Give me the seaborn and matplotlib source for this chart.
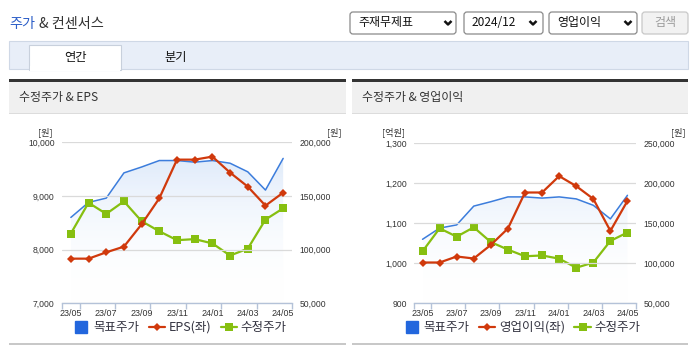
import numpy as np
import pandas as pd
import matplotlib
matplotlib.use("Agg")
import matplotlib.pyplot as plt
import seaborn as sns
from matplotlib.patches import Rectangle, FancyBboxPatch
from matplotlib.lines import Line2D
from matplotlib.transforms import IdentityTransform
from matplotlib.colors import LinearSegmentedColormap
from matplotlib.ticker import FuncFormatter, FixedLocator

# ---------------- data ----------------
months = ["23/05", "23/06", "23/07", "23/08", "23/09", "23/10", "23/11",
          "23/12", "24/01", "24/02", "24/03", "24/04", "24/05"]
target_price = [130000, 144000, 148000, 171500, 177000, 183000, 183000,
                181500, 183000, 180500, 172500, 155500, 185000]
adj_price = [115000, 143700, 133300, 145000, 126500, 117100, 108800,
             109800, 105800, 94500, 100900, 128000, 138500]
eps = [7832, 7832, 7950, 8056, 8472, 8957, 9677, 9677, 9733, 9435, 9174, 8820, 9062]
op_income = [1002, 1002, 1017, 1012, 1046, 1087, 1177, 1177, 1218, 1193, 1161, 1081, 1156]

legend_labels_left = ["목표주가", "EPS(좌)", "수정주가"]
legend_labels_right = ["목표주가", "영업이익(좌)", "수정주가"]

BLUE = "#3c7ddc"
BLUE_SQ = "#2266dd"
RED = "#d0390c"
GREEN = "#86bf10"

sns.set_theme(style="white")
plt.rcParams["font.family"] = ["Noto Sans CJK KR", "DejaVu Sans"]

W, H = 695, 349
fig = plt.figure(figsize=(W / 100, H / 100), dpi=100)
fig.patch.set_facecolor("white")
ID = IdentityTransform()


def rect(x0, y0, x1, y1, fc, ec="none", lw=0.0, rnd=None):
    if rnd:
        p = FancyBboxPatch((x0, H - y1), x1 - x0, y1 - y0,
                           boxstyle=f"round,pad=0,rounding_size={rnd}",
                           fc=fc, ec=ec, lw=lw, transform=ID)
    else:
        p = Rectangle((x0, H - y1), x1 - x0, y1 - y0, fc=fc, ec=ec, lw=lw,
                      transform=ID)
    fig.add_artist(p)


def text(x, y, s, **kw):
    fig.text(x / W, 1 - y / H, s, **kw)


# ---------------- page chrome ----------------
text(9, 24, "주가", fontsize=10.2, color="#2d5fc8", va="center", ha="left")
text(39, 24, "& 컨센서스", fontsize=10.2, color="#333333", va="center", ha="left")

# dropdowns
for (x0, x1, label, chev) in [(350, 456, "주재무제표", 448),
                               (464, 543, "2024/12", 533),
                               (549, 637, "영업이익", 628)]:
    rect(x0, 12, x1, 34, fc="white", ec="#8a8a8a", lw=0.9, rnd=3)
    text(x0 + 8, 22.5, label, fontsize=8.6, color="#111111", va="center", ha="left")
    fig.add_artist(Line2D([chev - 3.5, chev, chev + 3.5],
                          [H - 21, H - 24.5, H - 21], color="#111111",
                          lw=1.8, transform=ID, solid_capstyle="butt"))
rect(642, 12, 688, 34, fc="#f2f2f2", ec="#c8c8c8", lw=0.9, rnd=3)
text(665, 22.5, "검색", fontsize=8.6, color="#9a9a9a", va="center", ha="center")

# tab bar
rect(9, 41, 688, 69, fc="#e8eef8", ec="#cfd8e6", lw=0.8)
rect(29, 45, 121, 70, fc="white", ec="#c8d0dc", lw=0.8)
rect(29.6, 66, 120.4, 70.5, fc="white")
text(75, 57, "연간", fontsize=8.8, color="#111111", va="center", ha="center")
text(176, 57, "분기", fontsize=8.8, color="#111111", va="center", ha="center")

# panels
for (x0, x1, title) in [(9, 346, "수정주가 & EPS"), (352, 688, "수정주가 & 영업이익")]:
    rect(x0, 81, x1, 112.5, fc="#f0f0f0")
    rect(x0, 79, x1, 81.5, fc="#333333")
    rect(x0, 112.5, x1, 113.5, fc="#dcdcdc")
    rect(x0, 342.5, x1, 344.5, fc="#c8c8c8")
    text(x0 + 10, 97, title, fontsize=8.6, color="#333333", va="center", ha="left")

# ---------------- charts ----------------
idx = np.arange(len(months))
df = pd.DataFrame({"idx": idx, "month": months, "target": target_price,
                   "adj": adj_price, "eps": eps, "op": op_income})

grad_cmap = LinearSegmentedColormap.from_list(
    "g", [(1, 1, 1, 0.0), (0.85, 0.905, 0.98, 1.0)])

TICKFONT = dict(family="Liberation Sans", size=6.2)


def make_chart(x0, x1, y0, y1, left_col, left_lim, left_step, right_lim,
               right_step, left_unit, right_unit, labels, leg_cx):
    ax = fig.add_axes([x0 / W, 1 - y1 / H, (x1 - x0) / W, (y1 - y0) / H])
    ax2 = ax.twinx()
    ax.set_zorder(ax2.get_zorder() + 1)
    ax.patch.set_visible(False)

    # target price area + line (right axis)
    poly = ax2.fill_between(df["idx"], df["target"], right_lim[0],
                            color="none", lw=0)
    grad = np.linspace(0, 1, 256).reshape(-1, 1)
    im = ax2.imshow(grad, extent=[0, len(months) - 1, right_lim[0], right_lim[1]],
                    origin="lower", aspect="auto", cmap=grad_cmap, zorder=1)
    im.set_clip_path(poly.get_paths()[0], ax2.transData)
    sns.lineplot(data=df, x="idx", y="target", ax=ax2, color=BLUE, lw=1.1,
                 zorder=3)
    sns.lineplot(data=df, x="idx", y="adj", ax=ax2, color=GREEN, lw=1.6,
                 marker="s", markersize=6.2, markeredgewidth=0,
                 markeredgecolor=GREEN, zorder=4)
    sns.lineplot(data=df, x="idx", y=left_col, ax=ax, color=RED, lw=1.6,
                 marker="D", markersize=4.2, markeredgewidth=0,
                 markeredgecolor=RED, zorder=5)

    for a in (ax, ax2):
        a.set_xlim(-0.5, len(months) - 0.5)
        a.set_xlabel("")
        a.set_ylabel("")
        for s in a.spines.values():
            s.set_visible(False)
    ax.set_ylim(*left_lim)
    ax2.set_ylim(*right_lim)
    ax.spines["bottom"].set_visible(True)
    ax.spines["bottom"].set_color("#b4c2d8")
    ax.spines["bottom"].set_linewidth(1.0)

    lt = np.arange(left_lim[0], left_lim[1] + 1, left_step)
    rt = np.arange(right_lim[0], right_lim[1] + 1, right_step)
    ax.set_yticks(lt)
    ax2.set_yticks(rt)
    fmt = FuncFormatter(lambda v, p: f"{int(round(v)):,}")
    ax.yaxis.set_major_formatter(fmt)
    ax2.yaxis.set_major_formatter(fmt)
    ax.tick_params(axis="y", length=0, pad=5.2, labelcolor="#333333")
    ax2.tick_params(axis="y", length=0, pad=5.6, labelcolor="#333333")
    for lab in ax.get_yticklabels() + ax2.get_yticklabels():
        lab.set_fontfamily(TICKFONT["family"])
        lab.set_fontsize(TICKFONT["size"])

    # grid lines at the left-axis ticks
    ax2.grid(False)
    ax.grid(False)
    ax.yaxis.grid(True, color="#dadada", lw=0.9)
    ax.set_axisbelow(True)

    # x ticks
    ax.xaxis.set_major_locator(FixedLocator(idx[::2]))
    ax.set_xticklabels(months[::2])
    ax.xaxis.set_minor_locator(FixedLocator([-0.5] + list(np.arange(0.5, 12, 2)) + [12.5]))
    ax.tick_params(axis="x", which="major", length=0, pad=4.0, labelcolor="#333333")
    ax.tick_params(axis="x", which="minor", length=4, width=1.0, color="#b4c2d8",
                   bottom=True)
    ax2.tick_params(axis="x", which="both", length=0, labelbottom=False)
    for lab in ax.get_xticklabels():
        lab.set_fontfamily(TICKFONT["family"])
        lab.set_fontsize(6.4)

    # units
    text(left_unit[0], 132.5, left_unit[1], fontsize=6.6, color="#333333",
         va="center", ha="right")
    text(right_unit[0], 132.5, right_unit[1], fontsize=6.6, color="#333333",
         va="center", ha="right")

    handles = [
        Line2D([], [], marker="s", color=BLUE_SQ, linestyle="none", markersize=8.5),
        Line2D([], [], marker="D", color=RED, lw=1.6, markersize=4.2,
               markeredgewidth=0),
        Line2D([], [], marker="s", color=GREEN, lw=1.6, markersize=6.2,
               markeredgewidth=0),
    ]
    ax.legend(handles, labels, loc="center",
              bbox_to_anchor=(leg_cx / W, 1 - 327.5 / H),
              bbox_transform=fig.transFigure, ncol=3, frameon=False,
              handlelength=1.3, handletextpad=0.3, columnspacing=0.75,
              fontsize=9.0, labelcolor="#333340", borderpad=0)
    return ax, ax2


make_chart(62, 292, 142.3, 303.3, "eps", (7000, 10000), 1000, (50000, 200000), 50000,
           (53, "[원]"), (342, "[원]"), legend_labels_left, 180)
make_chart(414, 636, 143.3, 303.3, "op", (900, 1300), 100, (50000, 250000), 50000,
           (405, "[억원]"), (686, "[원]"), legend_labels_right, 522)

fig.savefig("out.png", dpi=100)
